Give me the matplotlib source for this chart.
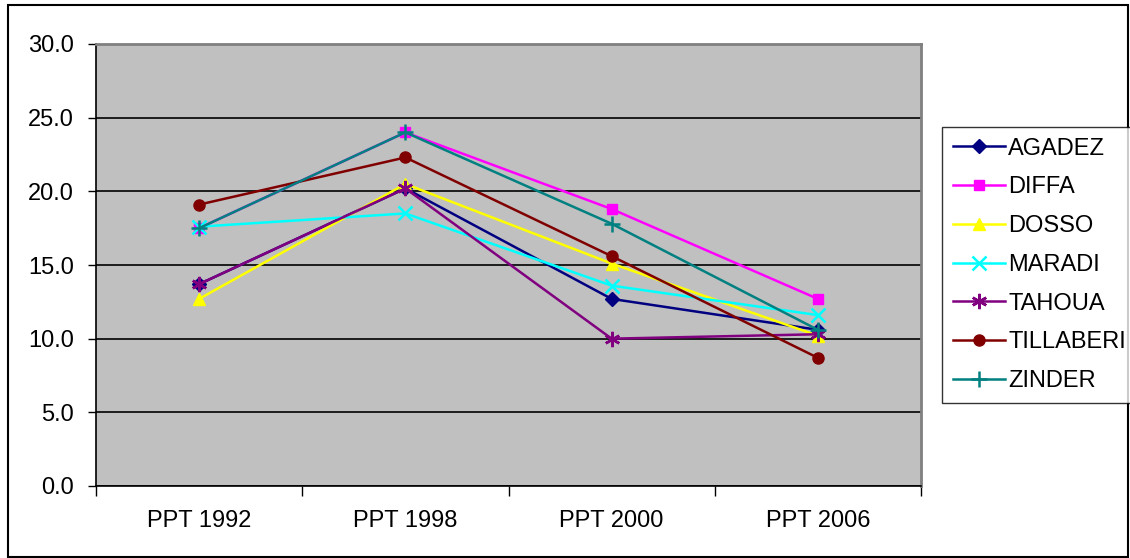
import numpy as np
import matplotlib
matplotlib.use("Agg")
import matplotlib.pyplot as plt
from matplotlib.patches import Rectangle

plt.rcParams['font.family'] = ['Liberation Sans', 'DejaVu Sans']

surveys = ["PPT 1992", "PPT 1998", "PPT 2000", "PPT 2006"]

agadez    = [13.7, 20.2, 12.7, 10.6]
diffa     = [17.5, 24.0, 18.8, 12.7]
dosso     = [12.7, 20.5, 15.1, 10.2]
maradi    = [17.6, 18.5, 13.6, 11.6]
tahoua    = [13.7, 20.2, 10.0, 10.3]
tillaberi = [19.1, 22.3, 15.6, 8.7]
zinder    = [17.5, 24.0, 17.8, 10.6]

regions = ["AGADEZ", "DIFFA", "DOSSO", "MARADI", "TAHOUA", "TILLABERI", "ZINDER"]
series = [agadez, diffa, dosso, maradi, tahoua, tillaberi, zinder]
colors = ["#000080", "#FF00FF", "#FFFF00", "#00FFFF", "#800080", "#800000", "#008080"]
markers = ["D", "s", "^", "x", (6, 2, 0), "o", "+"]
msizes = [7, 7.5, 9, 10, 11, 8, 12]

fig = plt.figure(figsize=(11.3, 5.58), dpi=100)
ax = fig.add_axes([96/1130, 1 - 486/558, 825/1130, 442/558])
ax.set_facecolor("#C0C0C0")

x = np.arange(len(surveys))
for name, vals, c, m, ms in zip(regions, series, colors, markers, msizes):
    ax.plot(x, vals, color=c, lw=1.8, marker=m, markersize=ms,
            markeredgewidth=1.8 if m in ("x", "+", (6, 2, 0)) else 1,
            markerfacecolor=c, markeredgecolor=c, label=name)

ax.set_xlim(-0.5, 3.5)
ax.set_ylim(0, 30)
ax.set_yticks(np.arange(0, 31, 5))
ax.set_yticklabels([f"{v:.1f}" for v in np.arange(0, 31, 5)])
ax.set_xticks(x)
ax.set_xticklabels(surveys)
ax.set_xticks(np.arange(-0.5, 4, 1), minor=True)
ax.yaxis.grid(True, color="black", lw=1.2)
ax.set_axisbelow(True)

ax.tick_params(axis="x", which="major", length=0, pad=17, labelsize=17)
ax.tick_params(axis="x", which="minor", length=7, width=1, direction="out")
ax.tick_params(axis="y", length=6, width=1, direction="out", pad=10, labelsize=17)

for s in ("left", "bottom"):
    ax.spines[s].set_color("black")
    ax.spines[s].set_linewidth(1.2)
for s in ("top", "right"):
    ax.spines[s].set_color("#808080")
    ax.spines[s].set_linewidth(2)

leg = fig.legend(loc="upper left", bbox_to_anchor=(942/1130, 1 - 127/558),
                 borderaxespad=0, fontsize=17, frameon=True, fancybox=False,
                 handlelength=2.2, handletextpad=0.15, labelspacing=0.71,
                 borderpad=0.45)
leg.get_frame().set_edgecolor("black")
leg.get_frame().set_linewidth(1)

# outer chart border
fig.patches.append(Rectangle((8/1130, 0.002), 1 - 8/1130 - 0.002, 1 - 5/558 - 0.002,
                             transform=fig.transFigure, fill=False,
                             edgecolor="black", lw=1.5))

fig.savefig("out.png", dpi=100)
